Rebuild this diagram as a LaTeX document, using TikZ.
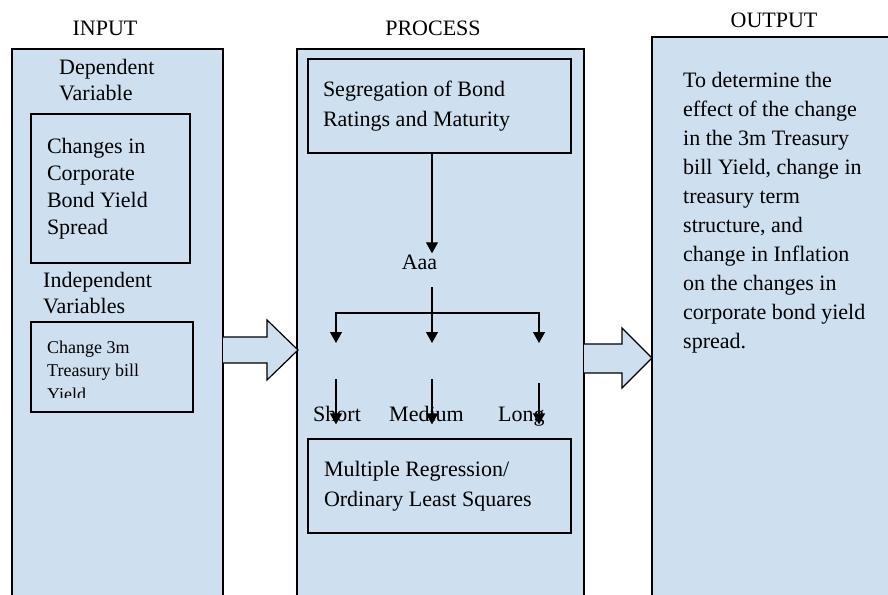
\documentclass[tikz,border=0pt]{standalone}
\usepackage{fontspec}
\setmainfont{Liberation Serif}
\usepackage{tikz}
\usetikzlibrary{arrows.meta}
\definecolor{lblue}{RGB}{206, 223, 240}
\tikzset{box/.style = {draw, fill=lblue, line width=1.2pt, inner sep=0}}
\tikzset{arr/.style = {-{Triangle[length=11pt, width=12pt]}, line width=1.3pt}}
\tikzset{arrtwo/.style = {{Triangle[length=11pt, width=12pt]}-{Triangle[length=11pt, width=12pt]}, line width=1.3pt}}
\tikzset{txt/.style = {inner sep=0, align=left, font=\fontsize{22}{26}\selectfont}}
\tikzset{boxtxt/.style = {box, align=flush left, font=\fontsize{22}{30}\selectfont}}

\begin{document}
\begin{tikzpicture}[x=1pt, y=-1pt]
      \useasboundingbox (0, 0) rectangle (888, 594);
      \clip (0, 0) rectangle (888, 594);

      % the three columns
      \node [box, minimum width=211, minimum height=571] (input) at (117.5, 334.5) {};
      \node [box, minimum width=287, minimum height=571] (process) at (440.5, 334.5) {};
      \node [box, minimum width=258, minimum height=583] (output) at (781, 328.5) {};
      \node [txt, anchor=base] (inputtitle) at (105, 36) {INPUT};
      \node [txt, anchor=base] (processtitle) at (433, 36) {PROCESS};
      \node [txt, anchor=base] (outputtitle) at (774, 28) {OUTPUT};

      % input column
      \node [txt, anchor=north west] (deplabel) at (59, 59) {Dependent\\Variable};
      \node [boxtxt, font=\fontsize{22}{27}\selectfont, minimum width=159, minimum height=149,
             text width=127] (dep) at (110.5, 188.5) {Changes in\\Corporate\\Bond Yield\\Spread};
      \node [txt, anchor=north west] (indlabel) at (43, 272) {Independent\\Variables};
      \node [box, minimum width=162, minimum height=90] (ind) at (112, 367) {};
      \begin{scope}
        \clip (31, 322) rectangle (193, 397);
        \node [txt, font=\fontsize{18}{23.5}\selectfont, anchor=north west] (indtext) at (47, 340.7)
              {Change 3m\\Treasury bill\\Yield};
      \end{scope}

      \draw [box] (223, 337) -- (267, 337) -- (267, 320) -- (298, 350) -- (267, 380) -- (267, 363) -- (223, 363);

      % process column
      \node [boxtxt, minimum width=263, minimum height=94, text width=233] (seg) at (439.5, 106)
            {Segregation of Bond\\Ratings and Maturity};
      \node [txt, anchor=base] (aaa) at (419.5, 269) {Aaa};
      \node [txt, anchor=base west] (short) at (313, 421) {Short};
      \node [txt, anchor=base west] (medium) at (389, 421) {Medium};
      \node [txt, anchor=base west] (long) at (498, 421) {Long};
      \node [boxtxt, minimum width=263, minimum height=94, text width=231] (mr) at (439.5, 486)
            {Multiple Regression/\\Ordinary Least Squares};

      \coordinate (split) at (432, 313);
      \coordinate (aaaout) at (432, 287);
      \coordinate (lefttip) at (336, 343);
      \coordinate (midtip) at (432, 343);
      \coordinate (righttip) at (539, 343);
      \coordinate (leftin) at (336, 379);
      \coordinate (midin) at (432, 379);
      \coordinate (rightin) at (539, 383);

      \draw [arr] (seg.south -| split) -- ([yshift=1]aaa.north -| split);
      \draw [arr] (aaaout) -- (midtip);
      \draw [arrtwo] (lefttip) |- (split) -| (righttip);
      \draw [arr, shorten >=14pt] (leftin) -- (leftin |- mr.north);
      \draw [arr, shorten >=14pt] (midin) -- (midin |- mr.north);
      \draw [arr, shorten >=14pt] (rightin) -- (rightin |- mr.north);

      \draw [box] (584, 344) -- (622, 344) -- (622, 328) -- (652, 358) -- (622, 388) -- (622, 373) -- (584, 373);

      % output column
      \node [txt, font=\fontsize{22}{29}\selectfont, anchor=north west] (result) at (683, 72)
            {To determine the\\effect of the change\\in the 3m Treasury\\bill Yield, change in\\treasury term\\structure, and\\change in Inflation\\on the changes in\\corporate bond yield\\spread.};
    \end{tikzpicture}
\end{document}
